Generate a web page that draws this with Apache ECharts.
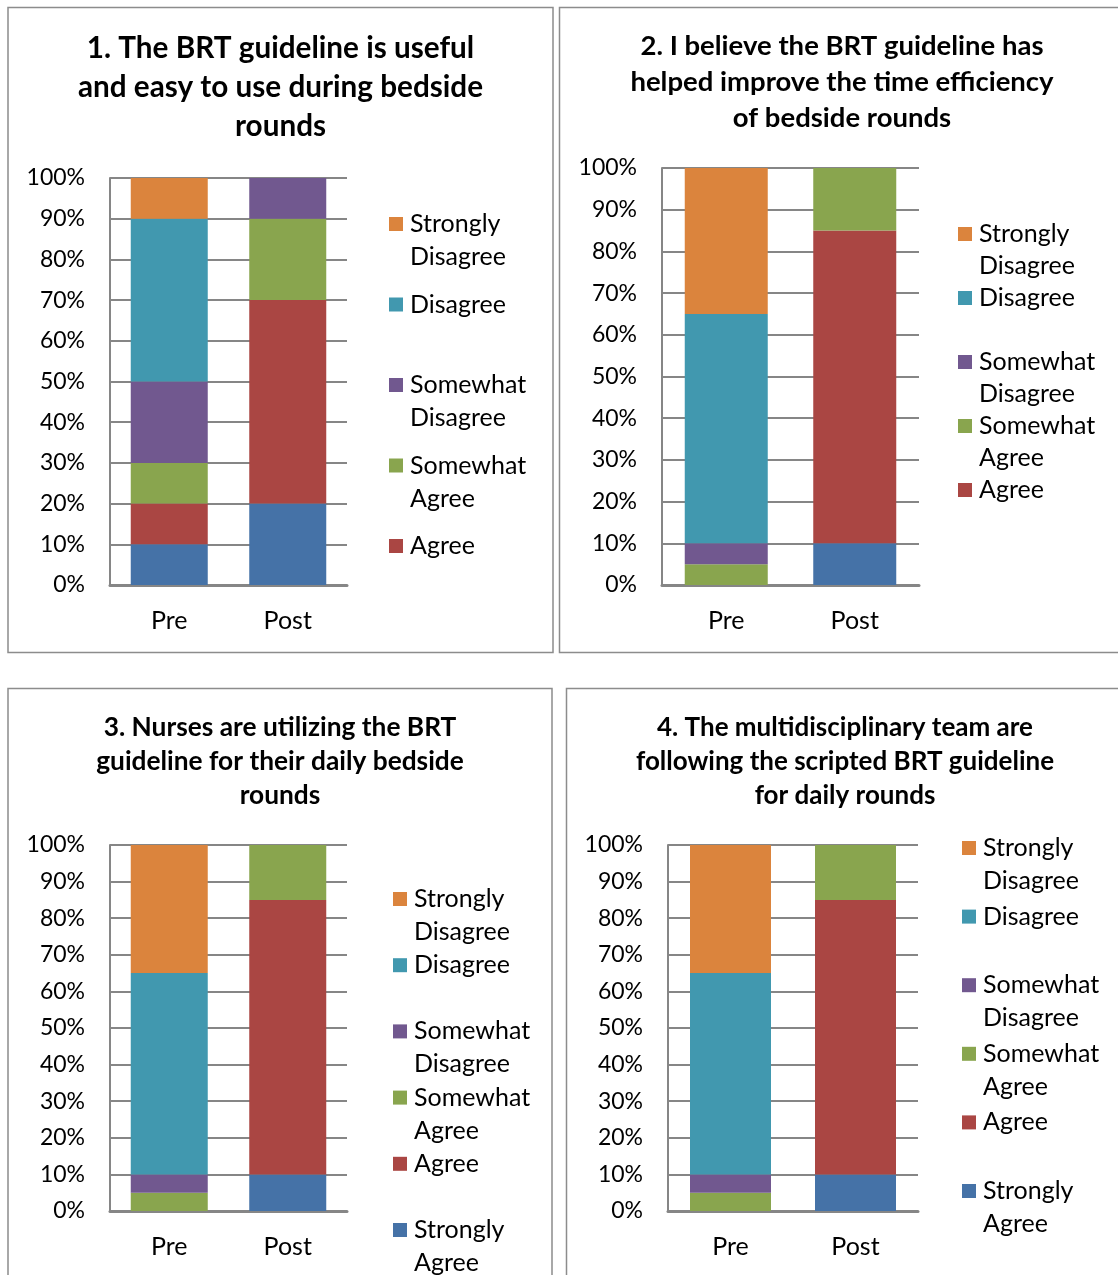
<!DOCTYPE html>
<html>
<head>
<meta charset="utf-8">
<script src="https://cdn.jsdelivr.net/npm/echarts@6/dist/echarts.min.js"></script>
<style>
  html, body { margin: 0; padding: 0; background: #ffffff; }
  #chart { width: 1118px; height: 1275px; }
</style>
</head>
<body>
<div id="chart"></div>
<script>
// Survey responses before and after the BRT guideline (percent of respondents)
const categories = ['Pre', 'Post'];
// stacking order, bottom to top
const seriesNames = ['Strongly Agree', 'Agree', 'Somewhat Agree', 'Somewhat Disagree', 'Disagree', 'Strongly Disagree'];
const seriesColors = ['#4572A7', '#AA4643', '#89A54E', '#71588F', '#4198AF', '#DB843D'];

// values per chart, listed in seriesNames order
const q1Pre  = [10, 10, 10, 20, 40, 10];
const q1Post = [20, 50, 20, 10, 0, 0];
const q2Pre  = [0, 0, 5, 5, 55, 35];
const q2Post = [10, 75, 15, 0, 0, 0];
const q3Pre  = [0, 0, 5, 5, 55, 35];
const q3Post = [10, 75, 15, 0, 0, 0];
const q4Pre  = [0, 0, 5, 5, 55, 35];
const q4Post = [10, 75, 15, 0, 0, 0];

const chartTitles = [
  '1. The BRT guideline is useful\nand easy to use during bedside\nrounds',
  '2. I believe the BRT guideline has\nhelped improve the time efficiency\nof bedside rounds',
  '3. Nurses are utilizing the BRT\nguideline for their daily bedside\nrounds',
  '4. The multidisciplinary team are\nfollowing the scripted BRT guideline\nfor daily rounds'
];

// legend entries shown in each chart (top to bottom)
const legend1 = ['Strongly Disagree', 'Disagree', 'Somewhat Disagree', 'Somewhat Agree', 'Agree'];
const legend2 = ['Strongly Disagree', 'Disagree', 'Somewhat Disagree', 'Somewhat Agree', 'Agree'];
const legend3 = ['Strongly Disagree', 'Disagree', 'Somewhat Disagree', 'Somewhat Agree', 'Agree', 'Strongly Agree'];
const legend4 = ['Strongly Disagree', 'Disagree', 'Somewhat Disagree', 'Somewhat Agree', 'Agree', 'Strongly Agree'];

const FONT = 'Lato, Carlito, Calibri, sans-serif';
const GRID_GRAY = '#868686';

// layout of the four panels
const panels = [
  { pre: q1Pre, post: q1Post, legendItems: legend1,
    grid: { left: 110, top: 178, width: 237, height: 407 }, barWidth: 77,
    title: { x: 280.5, y: 29, size: 29.7, lh: 39 },
    legend: { left: 384, top: 207.5, lh: 33, gap: 14.5 },
    frame: { x: 8, y: 7.5, w: 545, h: 645 } },
  { pre: q2Pre, post: q2Post, legendItems: legend2,
    grid: { left: 662, top: 168, width: 257, height: 417 }, barWidth: 83,
    title: { x: 842, y: 28, size: 27.5, lh: 36 },
    legend: { left: 953, top: 218, lh: 32, gap: 0 },
    frame: { x: 559.5, y: 7.5, w: 600, h: 645 } },
  { pre: q3Pre, post: q3Post, legendItems: legend3,
    grid: { left: 110, top: 845, width: 237, height: 366 }, barWidth: 77,
    title: { x: 280, y: 711, size: 26.3, lh: 34 },
    legend: { left: 388, top: 882.5, lh: 33, gap: 0.2 },
    frame: { x: 8, y: 688.5, w: 544, h: 700 } },
  { pre: q4Pre, post: q4Post, legendItems: legend4,
    grid: { left: 668, top: 845, width: 250, height: 366 }, barWidth: 81,
    title: { x: 845, y: 711, size: 26, lh: 34 },
    legend: { left: 957, top: 831.5, lh: 33, gap: 2.6 },
    frame: { x: 566.5, y: 688.5, w: 600, h: 700 } }
];

// legend label: coloured square + first word, second word indented below
function legendLabel(name) {
  const idx = seriesNames.indexOf(name);
  const words = name.split(' ');
  const first = words[0];
  const second = words.slice(1).join(' ') || ' ';
  return '{sq' + idx + '|}{gap|}{t|' + first + '}\n{ind|}{t|' + second + '}';
}

function legendRich(lh) {
  const rich = {
    gap: { width: 7, lineHeight: lh },
    ind: { width: 21, lineHeight: lh },
    t: { fontFamily: FONT, fontSize: 25, color: '#000000', lineHeight: lh }
  };
  seriesColors.forEach(function (c, i) {
    rich['sq' + i] = { width: 14, height: 14, backgroundColor: c, lineHeight: lh };
  });
  return rich;
}

const option = {
  animation: false,
  backgroundColor: '#ffffff',
  title: panels.map(function (p, i) {
    return {
      text: chartTitles[i],
      left: p.title.x, top: p.title.y, textAlign: 'center', padding: 0,
      textStyle: { fontFamily: FONT, fontWeight: 'bold', fontSize: p.title.size,
                   lineHeight: p.title.lh, color: '#000000' }
    };
  }),
  legend: panels.map(function (p) {
    return {
      orient: 'vertical', left: p.legend.left, top: p.legend.top, height: 700, padding: 0,
      itemGap: p.legend.gap, itemWidth: 0, itemHeight: 14, icon: 'none',
      selectedMode: false, data: p.legendItems,
      formatter: legendLabel,
      textStyle: { fontFamily: FONT, fontSize: 25, color: '#000000',
                   lineHeight: p.legend.lh, rich: legendRich(p.legend.lh) }
    };
  }),
  grid: panels.map(function (p) { return p.grid; }),
  xAxis: panels.map(function (p, i) {
    return {
      type: 'category', gridIndex: i, data: categories,
      axisLine: { lineStyle: { color: GRID_GRAY, width: 3 } },
      axisTick: { show: false },
      axisLabel: { fontFamily: FONT, fontSize: 25, color: '#000000', margin: 23 }
    };
  }),
  yAxis: panels.map(function (p, i) {
    return {
      type: 'value', gridIndex: i, min: 0, max: 100, interval: 10,
      axisLine: { show: true, lineStyle: { color: GRID_GRAY, width: 2 } },
      axisTick: { show: false },
      splitLine: { lineStyle: { color: GRID_GRAY, width: 2 } },
      axisLabel: { formatter: '{value}%', fontFamily: FONT, fontSize: 23,
                   color: '#000000', margin: 25 }
    };
  }),
  series: [],
  graphic: panels.map(function (p) {
    return {
      type: 'rect', silent: true,
      shape: { x: p.frame.x, y: p.frame.y, width: p.frame.w, height: p.frame.h },
      style: { fill: 'none', stroke: '#8c8c8c', lineWidth: 1.5 }
    };
  })
};

panels.forEach(function (p, i) {
  seriesNames.forEach(function (name, s) {
    option.series.push({
      type: 'bar', name: name, stack: 'q' + (i + 1),
      xAxisIndex: i, yAxisIndex: i, barWidth: p.barWidth,
      data: [p.pre[s], p.post[s]],
      itemStyle: { color: seriesColors[s] },
      emphasis: { disabled: true }
    });
  });
});

const chart = echarts.init(document.getElementById('chart'), null, { renderer: 'canvas' });
chart.setOption(option);
</script>
</body>
</html>
